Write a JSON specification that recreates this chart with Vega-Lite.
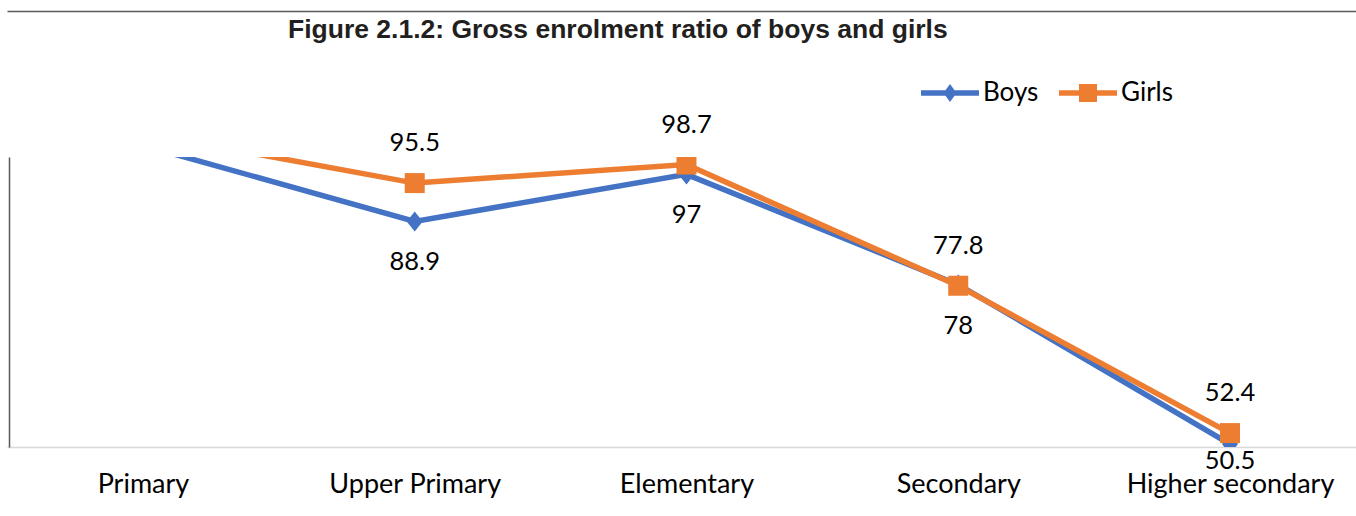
{
  "$schema": "https://vega.github.io/schema/vega-lite/v6.json",
  "width": 1349,
  "height": 290,
  "autosize": "none",
  "padding": {"left": 7, "top": 157, "right": 0, "bottom": 69},
  "background": "white",
  "config": {"view": {"stroke": null}},
  "title": {
    "text": "Figure 2.1.2: Gross enrolment ratio of boys and girls",
    "font": "Liberation Sans",
    "fontWeight": "bold",
    "fontSize": 26.5,
    "color": "#231F20",
    "anchor": "start",
    "frame": "group",
    "dx": 281,
    "baseline": "alphabetic",
    "offset": -53
  },
  "data": {
    "values": [
      {"level": "Primary", "series": "Boys", "value": 102.0},
      {"level": "Upper Primary", "series": "Boys", "value": 88.9},
      {"level": "Elementary", "series": "Boys", "value": 97},
      {"level": "Secondary", "series": "Boys", "value": 78},
      {"level": "Higher secondary", "series": "Boys", "value": 50.5},
      {"level": "Primary", "series": "Girls", "value": 104.1},
      {"level": "Upper Primary", "series": "Girls", "value": 95.5},
      {"level": "Elementary", "series": "Girls", "value": 98.7},
      {"level": "Secondary", "series": "Girls", "value": 77.8},
      {"level": "Higher secondary", "series": "Girls", "value": 52.4}
    ]
  },
  "encoding": {
    "color": {
      "field": "series",
      "type": "nominal",
      "scale": {"domain": ["Boys", "Girls"], "range": ["#4472C4", "#ED7D31"]},
      "legend": {
        "orient": "none",
        "legendX": 914,
        "legendY": -93,
        "direction": "horizontal",
        "title": null,
        "labelFont": "Lato",
        "labelFontSize": 26,
        "labelColor": "black",
        "labelOffset": 4,
        "columnPadding": 20,
        "symbolSize": 3364,
        "symbolStrokeWidth": 0,
        "symbolOpacity": 1
      }
    }
  },
  "layer": [
    {
      "mark": {"type": "line", "strokeWidth": 5.5, "clip": true},
      "encoding": {
        "x": {
          "field": "level",
          "type": "ordinal",
          "sort": ["Primary", "Upper Primary", "Elementary", "Secondary", "Higher secondary"],
          "scale": {"type": "point", "padding": 0.482, "align": 0.519},
          "axis": {"orient": "top", "offset": 146, "labels": false, "ticks": false, "grid": false, "title": null, "domainColor": "#595959", "domainWidth": 1.5}
        },
        "y": {
          "field": "value",
          "type": "quantitative",
          "scale": {"domain": [50, 100], "nice": false, "zero": false},
          "axis": {
            "orient": "left",
            "offset": -2,
            "labels": false,
            "ticks": false,
            "grid": false,
            "title": null,
            "domainColor": "#595959",
            "domainWidth": 1.5,
            "encode": {"domain": {"update": {"y": {"value": -146}, "y2": {"value": 359}}, "y": {"value": -146}, "y2": {"value": 359}}}
          }
        }
      }
    },
    {
      "mark": {"type": "point", "filled": true, "size": 0, "clip": true},
      "encoding": {
        "x": {"field": "level", "type": "ordinal", "sort": ["Primary", "Upper Primary", "Elementary", "Secondary", "Higher secondary"], "axis": null},
        "y": {"field": "value", "type": "quantitative", "axis": null},
        "shape": {
          "field": "series",
          "type": "nominal",
          "scale": {"domain": ["Boys", "Girls"], "range": ["M-1,-0.095H1V0.095H-1Z M0,-0.31L0.224,0L0,0.31L-0.224,0Z", "M-1,-0.095H1V0.095H-1Z M-0.31,-0.31H0.31V0.31H-0.31Z"]},
          "legend": {
            "orient": "none",
            "legendX": 914,
            "legendY": -93,
            "direction": "horizontal",
            "title": null,
            "labelFont": "Lato",
            "labelFontSize": 26,
            "labelColor": "black",
            "labelOffset": 4,
            "columnPadding": 20,
            "symbolSize": 3364,
            "symbolStrokeWidth": 0,
            "symbolOpacity": 1
          }
        }
      }
    },
    {
      "mark": {"type": "point", "filled": true, "opacity": 1, "size": 400, "clip": true},
      "encoding": {
        "x": {
          "field": "level",
          "type": "ordinal",
          "sort": ["Primary", "Upper Primary", "Elementary", "Secondary", "Higher secondary"],
          "axis": {
            "orient": "bottom",
            "labelAngle": 0,
            "labelFont": "Lato",
            "labelFontSize": 27,
            "labelColor": "black",
            "labelPadding": 24,
            "labelLimit": 400,
            "ticks": false,
            "grid": false,
            "title": null,
            "domainColor": "#D9D9D9",
            "domainWidth": 1.5
          }
        },
        "y": {"field": "value", "type": "quantitative", "axis": null},
        "shape": {"condition": {"test": "datum.series === 'Boys'", "value": "M0,-1L0.8,0L0,1L-0.8,0Z"}, "value": "square"}
      }
    },
    {
      "transform": [{"filter": "datum.series === 'Girls' && datum.value <= 100"}],
      "mark": {"type": "text", "dy": -40, "font": "Lato", "fontSize": 25.5, "baseline": "middle"},
      "encoding": {
        "x": {"field": "level", "type": "ordinal", "sort": ["Primary", "Upper Primary", "Elementary", "Secondary", "Higher secondary"], "axis": null},
        "y": {"field": "value", "type": "quantitative", "axis": null},
        "text": {"field": "value", "type": "nominal"},
        "color": {"value": "black"}
      }
    },
    {
      "transform": [{"filter": "datum.series === 'Boys' && datum.value <= 100 && datum.level !== 'Higher secondary'"}],
      "mark": {"type": "text", "dy": 41, "font": "Lato", "fontSize": 25.5, "baseline": "middle"},
      "encoding": {
        "x": {"field": "level", "type": "ordinal", "sort": ["Primary", "Upper Primary", "Elementary", "Secondary", "Higher secondary"], "axis": null},
        "y": {"field": "value", "type": "quantitative", "axis": null},
        "text": {"field": "value", "type": "nominal"},
        "color": {"value": "black"}
      }
    },
    {
      "transform": [{"filter": "datum.series === 'Boys' && datum.level === 'Higher secondary'"}],
      "mark": {"type": "text", "dy": 17, "font": "Lato", "fontSize": 25.5, "baseline": "middle"},
      "encoding": {
        "x": {"field": "level", "type": "ordinal", "sort": ["Primary", "Upper Primary", "Elementary", "Secondary", "Higher secondary"], "axis": null},
        "y": {"field": "value", "type": "quantitative", "axis": null},
        "text": {"field": "value", "type": "nominal"},
        "color": {"value": "black"}
      }
    }
  ],
  "resolve": {"axis": {"x": "independent", "y": "independent"}}
}
